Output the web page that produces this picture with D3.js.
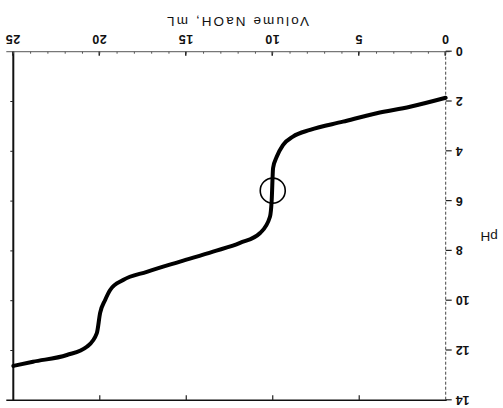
<!DOCTYPE html>
<html>
<head>
<meta charset="utf-8">
<script src="https://cdn.jsdelivr.net/npm/d3@7"></script>
<style>
  body { margin: 0; background: #fff; }
  svg { display: block; }
  text { font-family: "Liberation Sans", Arial, sans-serif; fill: #111; }
</style>
</head>
<body>
<div class="titration-chart"></div>
<script>
const volume = [0, 2.06, 3.99, 5.94, 7.84, 8.83, 9.41, 9.77, 9.98, 10.06, 10.16, 10.73, 11.89, 13.45, 15.36, 17.28, 18.65, 19.4, 19.69, 19.98, 20.17, 20.75, 21.9, 23.86, 25];
const ph     = [1.85, 2.21, 2.47, 2.81, 3.14, 3.41, 3.75, 4.22, 4.67, 5.96, 6.63, 7.28, 7.68, 8.03, 8.43, 8.84, 9.17, 9.57, 9.97, 10.49, 11.3, 11.85, 12.18, 12.45, 12.62];
const xTicks = [0, 5, 10, 15, 20, 25];
const xMinor = d3.range(0, 26, 1);
const yTicks = [0, 2, 4, 6, 8, 10, 12, 14];
const marker = [10, 5.58]; // circled point: volume, pH

const W = 503, H = 408;

const svg = d3.select(".titration-chart")
    .append("svg")
    .attr("width", W)
    .attr("height", H);

// the scan is printed upside down, so draw normally and turn the whole thing
const g = svg.append("g")
    .attr("transform", `rotate(180 ${W / 2} ${H / 2})`);

const x = d3.scaleLinear().domain([0, 25]).range([57.3, 489.7]);
const y = d3.scaleLinear().domain([0, 14]).range([356.3, 7.7]);

// frame lines
g.append("line") // bottom axis line (pH 0)
    .attr("x1", x(0) - 4).attr("x2", x(25) + 7)
    .attr("y1", y(0)).attr("y2", y(0))
    .attr("stroke", "#777").attr("stroke-width", 1.2);
g.append("line") // top frame (pH 14)
    .attr("x1", x(0) - 1).attr("x2", x(25) + 7)
    .attr("y1", y(14)).attr("y2", y(14))
    .attr("stroke", "#111").attr("stroke-width", 1.5);
g.append("line") // right frame (25 mL)
    .attr("x1", x(25)).attr("x2", x(25))
    .attr("y1", y(0)).attr("y2", y(14))
    .attr("stroke", "#111").attr("stroke-width", 2);
g.append("line") // left axis line, faint in the scan
    .attr("x1", x(0)).attr("x2", x(0))
    .attr("y1", y(0)).attr("y2", y(14))
    .attr("stroke", "#444").attr("stroke-width", 1)
    .attr("stroke-dasharray", "3,2");

// x axis
const xAxis = d3.axisBottom(x)
    .tickValues(xTicks)
    .tickSize(-4)
    .tickSizeOuter(0)
    .tickPadding(8)
    .tickFormat(d3.format("d"));
const xAxisGroup = g.append("g")
    .attr("class", "axis x-axis")
    .attr("transform", `translate(0,${y(0)})`)
    .call(xAxis);
xAxisGroup.select(".domain").remove();
xAxisGroup.selectAll("line").attr("stroke", "#222").attr("stroke-width", 1.5);
xAxisGroup.selectAll("text").attr("font-size", 12.5).attr("font-weight", "bold")
    .attr("letter-spacing", 0.6);

g.append("g").selectAll("line")
    .data(xMinor)
    .join("line")
    .attr("x1", d => x(d)).attr("x2", d => x(d))
    .attr("y1", y(0)).attr("y2", y(0) - 2)
    .attr("stroke", "#555").attr("stroke-width", 1);

// mirrored ticks on the top frame
g.append("g").selectAll("line")
    .data(xTicks.slice(1, 5))
    .join("line")
    .attr("x1", d => x(d)).attr("x2", d => x(d))
    .attr("y1", y(14)).attr("y2", y(14) + 5)
    .attr("stroke", "#222").attr("stroke-width", 1.2);

// y axis
const yAxis = d3.axisLeft(y)
    .tickValues(yTicks)
    .tickSize(6)
    .tickSizeOuter(0)
    .tickPadding(4)
    .tickFormat(d3.format("d"));
const yAxisGroup = g.append("g")
    .attr("class", "axis y-axis")
    .attr("transform", `translate(${x(0)},0)`)
    .call(yAxis);
yAxisGroup.select(".domain").remove();
yAxisGroup.selectAll("line").attr("stroke", "#222").attr("stroke-width", 1.2);
yAxisGroup.selectAll("text").attr("font-size", 12.5).attr("font-weight", "bold");

// small outward ticks on the right frame
g.append("g").selectAll("line")
    .data(yTicks.slice(1, 7))
    .join("line")
    .attr("x1", x(25)).attr("x2", x(25) + 3)
    .attr("y1", d => y(d)).attr("y2", d => y(d))
    .attr("stroke", "#222").attr("stroke-width", 1);

// axis titles
g.append("text")
    .attr("x", 266)
    .attr("y", 391)
    .attr("text-anchor", "middle")
    .attr("font-size", 13.5)
    .attr("letter-spacing", 2.1)
    .text("Volume NaOH, mL");
g.append("text")
    .attr("x", 14)
    .attr("y", 176)
    .attr("text-anchor", "middle")
    .attr("font-size", 13.5)
    .text("pH");

// curve
const line = d3.line()
    .x((d, i) => x(volume[i]))
    .y(d => y(d))
    .curve(d3.curveMonotoneX);
g.append("path")
    .datum(ph)
    .attr("d", line)
    .attr("fill", "none")
    .attr("stroke", "#000")
    .attr("stroke-width", 4)
    .attr("stroke-linecap", "round");

g.append("circle")
    .attr("cx", x(marker[0]))
    .attr("cy", y(marker[1]))
    .attr("r", 12.5)
    .attr("fill", "none")
    .attr("stroke", "#000")
    .attr("stroke-width", 1.6);
</script>
</body>
</html>
